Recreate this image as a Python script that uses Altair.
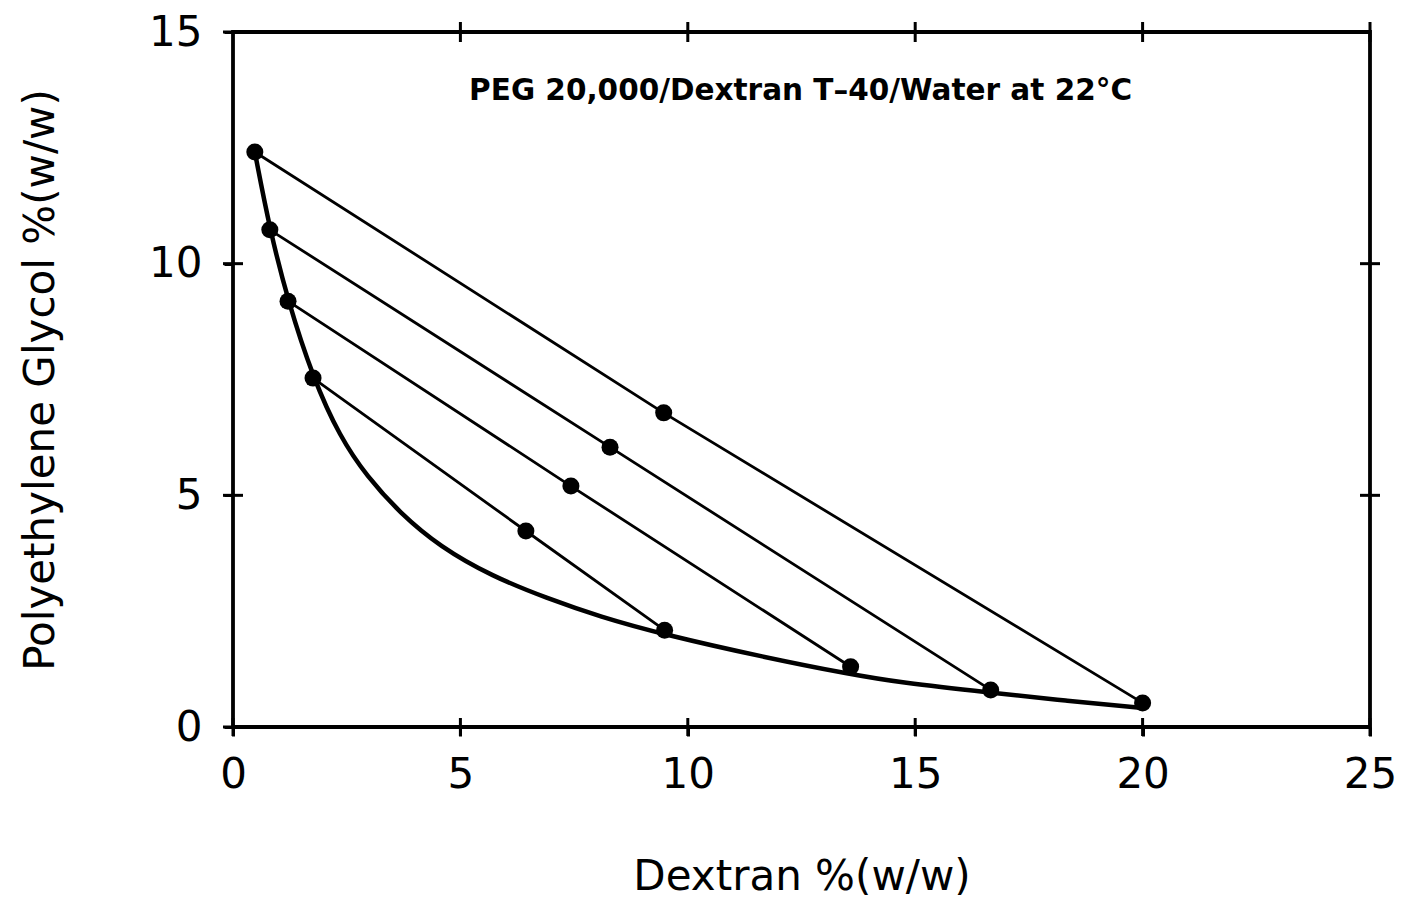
import altair as alt
import pandas as pd

# Binodal curve, PEG 20,000 / Dextran T-40 / water, 22 °C
binodal_dextran = [0.48, 0.81, 1.21, 1.76, 2.35, 2.95, 3.67, 4.55, 5.7, 6.9, 8.07, 9.45,
                   11.7, 13.56, 14.66, 16.64, 18.3, 20.0]
binodal_peg = [12.41, 10.73, 9.19, 7.53, 6.26, 5.40, 4.62, 3.89, 3.25, 2.78, 2.38, 2.0,
               1.5, 1.14, 0.96, 0.74, 0.57, 0.41]

# Tie lines: top phase, feed composition, bottom phase
tie_top_dextran = [0.48, 0.81, 1.21, 1.76]
tie_top_peg = [12.41, 10.73, 9.19, 7.53]
tie_mid_dextran = [9.47, 8.29, 7.43, 6.44]
tie_mid_peg = [6.78, 6.04, 5.20, 4.23]
tie_bot_dextran = [20.0, 16.66, 13.58, 9.49]
tie_bot_peg = [0.52, 0.80, 1.30, 2.09]

x_ticks = [0, 5, 10, 15, 20, 25]
y_ticks = [0, 5, 10, 15]
top_ticks = [5, 10, 15, 20, 25]
right_ticks = [5, 10]

title_text = "PEG 20,000/Dextran T\u201340/Water at 22\u00b0C"

W, H = 1137, 695
FONT = "DejaVu Sans"

binodal = pd.DataFrame({"dextran": binodal_dextran, "peg": binodal_peg})

tie_rows = []
for i in range(len(tie_top_dextran)):
    for order, (dx, pg) in enumerate([(tie_top_dextran[i], tie_top_peg[i]),
                                      (tie_mid_dextran[i], tie_mid_peg[i]),
                                      (tie_bot_dextran[i], tie_bot_peg[i])]):
        tie_rows.append({"tie": i, "order": order, "dextran": dx, "peg": pg})
ties = pd.DataFrame(tie_rows)

xs = alt.Scale(domain=[0, 25], nice=False, zero=False)
ys = alt.Scale(domain=[0, 15], nice=False, zero=False)

x_axis = alt.Axis(values=x_ticks, title="Dextran %(w/w)", domain=False, grid=False,
                  tickSize=9, tickWidth=3, tickColor="black", labelFlush=False,
                  labelFont=FONT, labelFontSize=42, labelColor="black", labelPadding=18,
                  titleFont=FONT, titleFontSize=42, titleFontWeight="normal",
                  titleColor="black", titlePadding=61)
y_axis = alt.Axis(values=y_ticks, title="Polyethylene Glycol %(w/w)", domain=False, grid=False,
                  tickSize=9, tickWidth=3, tickColor="black", labelFlush=False,
                  labelFont=FONT, labelFontSize=42, labelColor="black", labelPadding=22,
                  titleFont=FONT, titleFontSize=42, titleFontWeight="normal",
                  titleColor="black", titlePadding=86)

curve = alt.Chart(binodal).mark_line(color="black", strokeWidth=4.5, interpolate="basis").encode(
    x=alt.X("dextran:Q", scale=xs, axis=x_axis),
    y=alt.Y("peg:Q", scale=ys, axis=y_axis),
    order="dextran:Q",
)

tie_lines = alt.Chart(ties).mark_line(color="black", strokeWidth=2.8).encode(
    x=alt.X("dextran:Q", scale=xs),
    y=alt.Y("peg:Q", scale=ys),
    detail="tie:N",
    order="order:Q",
)

points = alt.Chart(ties).mark_circle(color="black", opacity=1, size=290).encode(
    x=alt.X("dextran:Q", scale=xs),
    y=alt.Y("peg:Q", scale=ys),
)

# Tick marks that cross the frame on all four sides
bottom_ticks = alt.Chart(pd.DataFrame({"v": x_ticks})).mark_rule(color="black", strokeWidth=3).encode(
    x=alt.X("v:Q", scale=xs), y=alt.value(H - 9), y2=alt.value(H + 9))
top_tick_marks = alt.Chart(pd.DataFrame({"v": top_ticks})).mark_rule(color="black", strokeWidth=3).encode(
    x=alt.X("v:Q", scale=xs), y=alt.value(-10), y2=alt.value(10))
left_ticks = alt.Chart(pd.DataFrame({"v": y_ticks})).mark_rule(color="black", strokeWidth=3).encode(
    y=alt.Y("v:Q", scale=ys), x=alt.value(-10), x2=alt.value(10))
right_tick_marks = alt.Chart(pd.DataFrame({"v": right_ticks})).mark_rule(color="black", strokeWidth=3).encode(
    y=alt.Y("v:Q", scale=ys), x=alt.value(W - 10), x2=alt.value(W + 10))

label = alt.Chart(pd.DataFrame({"x": [12.48], "y": [13.53], "t": [title_text]})).mark_text(
    font=FONT, fontSize=29.5, fontWeight="bold", color="black",
    align="center", baseline="alphabetic").encode(
    x=alt.X("x:Q", scale=xs), y=alt.Y("y:Q", scale=ys), text="t:N")

chart = alt.layer(
    curve, tie_lines, points, bottom_ticks, top_tick_marks, left_ticks, right_tick_marks, label
).properties(
    width=W, height=H,
    autosize=alt.AutoSizeParams(type="none"),
    padding={"left": 233, "top": 32, "right": 32, "bottom": 181},
    background="white",
).configure_view(
    stroke="black", strokeWidth=3.8
)

chart.save("out.html", embed_options={"renderer": "svg", "actions": False})
